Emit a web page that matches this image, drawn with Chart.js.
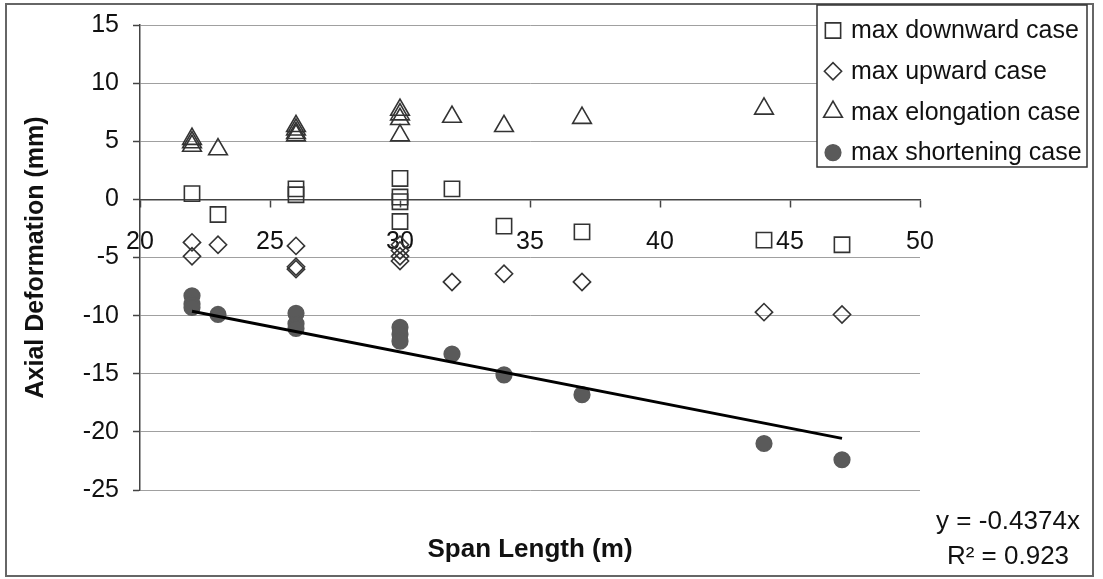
<!DOCTYPE html>
<html><head><meta charset="utf-8">
<script src="https://cdn.jsdelivr.net/npm/chart.js@4.4.1/dist/chart.umd.min.js"></script>
<style>html,body{margin:0;padding:0;background:#fff;}#wrap{width:1103px;height:579px;position:relative;}</style>
</head><body><div id="wrap"><canvas id="c" width="1103" height="579"></canvas></div>
<script>
// ---- data ----
const seriesLabels = ['max downward case', 'max upward case', 'max elongation case', 'max shortening case'];
const downX = [22, 23, 26, 26, 30, 30, 30, 30, 32, 34, 37, 44, 47];
const downY = [0.5, -1.3, 0.9, 0.4, 1.8, 0.2, -0.2, -1.9, 0.9, -2.3, -2.8, -3.5, -3.9];
const upX = [22, 22, 23, 26, 26, 26, 30, 30, 30, 30, 32, 34, 37, 44, 47];
const upY = [-3.7, -4.9, -3.9, -4.0, -5.8, -6.0, -3.9, -4.4, -4.9, -5.3, -7.1, -6.4, -7.1, -9.7, -9.9];
const elongX = [22, 22, 22, 23, 26, 26, 26, 26, 30, 30, 30, 30, 32, 34, 37, 44];
const elongY = [5.2, 4.9, 4.6, 4.3, 6.3, 6.0, 5.7, 5.5, 7.7, 7.3, 6.9, 5.5, 7.1, 6.3, 7.0, 7.8];
const shortX = [22, 22, 22, 23, 26, 26, 26, 30, 30, 30, 32, 34, 37, 44, 47];
const shortY = [-8.3, -9.0, -9.3, -9.9, -9.8, -10.7, -11.1, -11.0, -11.6, -12.2, -13.3, -15.1, -16.8, -21.0, -22.4];
const trendX = [22, 47];
const trendY = [-9.62, -20.56];
const equationText = ['y = -0.4374x', 'R\u00B2 = 0.923'];
const xTitle = 'Span Length (m)';
const yTitle = 'Axial Deformation (mm)';
const xMin = 20, xMax = 50, xStep = 5;
const yMin = -25, yMax = 15, yStep = 5;

const FONT = "'Liberation Sans', Arial, sans-serif";
const pts = (xs, ys) => xs.map((x, i) => ({x: x, y: ys[i]}));

const styles = [
  {pointStyle: 'rect', radius: 10.8, bg: 'rgba(0,0,0,0)', border: '#333'},
  {pointStyle: 'rectRot', radius: 8.6, bg: 'rgba(0,0,0,0)', border: '#333'},
  {pointStyle: 'triangle', radius: 10.8, bg: 'rgba(0,0,0,0)', border: '#333'},
  {pointStyle: 'circle', radius: 7.8, bg: '#5a5a5a', border: '#5a5a5a'}
];
const seriesData = [pts(downX, downY), pts(upX, upY), pts(elongX, elongY), pts(shortX, shortY)];

const datasets = seriesData.map((d, i) => ({
  label: seriesLabels[i],
  data: d,
  pointStyle: styles[i].pointStyle,
  pointRadius: styles[i].radius,
  pointHoverRadius: styles[i].radius,
  pointBackgroundColor: styles[i].bg,
  pointBorderColor: styles[i].border,
  pointBorderWidth: 1.6,
  showLine: false,
  order: 4 - i
}));
datasets.push({
  label: 'trend',
  data: pts(trendX, trendY),
  showLine: true,
  borderColor: '#000',
  borderWidth: 3,
  pointRadius: 0,
  fill: false,
  order: 0
});

const framePlugin = {
  id: 'frame',
  beforeDraw(chart) {
    const ctx = chart.ctx;
    ctx.save();
    ctx.fillStyle = '#fff';
    ctx.fillRect(0, 0, chart.width, chart.height);
    ctx.strokeStyle = '#666';
    ctx.lineWidth = 2;
    ctx.strokeRect(6, 4, 1087, 572);
    ctx.restore();
  }
};

const legendPlugin = {
  id: 'boxLegend',
  afterDraw(chart) {
    const ctx = chart.ctx;
    ctx.save();
    const bx = 817, by = 5, bw = 270, bh = 162;
    ctx.fillStyle = '#fff';
    ctx.fillRect(bx, by, bw, bh);
    ctx.strokeStyle = '#333';
    ctx.lineWidth = 1.5;
    ctx.strokeRect(bx, by, bw, bh);
    ctx.font = '25px ' + FONT;
    ctx.textBaseline = 'middle';
    ctx.textAlign = 'left';
    for (let i = 0; i < 4; i++) {
      const ds = chart.data.datasets[i];
      const y = 30.5 + i * 40.7;
      ctx.fillStyle = ds.pointBackgroundColor;
      ctx.strokeStyle = ds.pointBorderColor;
      ctx.lineWidth = 1.6;
      Chart.helpers.drawPoint(ctx, {pointStyle: ds.pointStyle, radius: ds.pointRadius, borderWidth: 1.6, rotation: 0}, 833, y);
      ctx.fillStyle = '#111';
      ctx.fillText(ds.label, 851, y + 1);
    }
    // trend equation
    ctx.font = '26px ' + FONT;
    ctx.textAlign = 'center';
    ctx.fillStyle = '#111';
    ctx.fillText(equationText[0], 1008, 522);
    ctx.fillText(equationText[1], 1008, 557);
    ctx.restore();
  }
};

new Chart(document.getElementById('c'), {
  type: 'scatter',
  data: {datasets: datasets},
  options: {
    responsive: false,
    animation: false,
    devicePixelRatio: 1,
    layout: {padding: {left: 0, top: 25, right: 183, bottom: 0}},
    plugins: {
      legend: {display: false},
      tooltip: {enabled: false},
      title: {
        display: true,
        text: xTitle,
        position: 'bottom',
        fullSize: false,
        color: '#111',
        font: {family: FONT, size: 26, weight: 'bold'},
        padding: {top: 44.5, bottom: 13.3}
      }
    },
    scales: {
      x: {
        type: 'linear',
        min: xMin, max: xMax,
        position: {y: 0},
        afterFit(scale) { scale.paddingTop = 0; scale.paddingBottom = 0; },
        ticks: {stepSize: xStep, color: '#111', font: {family: FONT, size: 25}, padding: 21, maxRotation: 0},
        grid: {display: true, drawOnChartArea: false, drawTicks: true, tickLength: 7, tickColor: '#444', tickWidth: 1.5},
        border: {display: true, color: '#444', width: 1.5}
      },
      y: {
        type: 'linear',
        min: yMin, max: yMax,
        position: 'left',
        afterFit(scale) { scale.width = 140; scale.paddingTop = 10; scale.paddingBottom = 10; },
        ticks: {stepSize: yStep, color: '#111', font: {family: FONT, size: 25}, padding: 14},
        grid: {color: '#a0a0a0', lineWidth: 1, drawTicks: true, tickLength: 7, tickColor: '#444', tickWidth: 1.5},
        border: {display: true, color: '#444', width: 1.5},
        title: {display: true, text: yTitle, color: '#111', font: {family: FONT, size: 25, weight: 'bold'}, padding: {top: 21, bottom: 0}}
      }
    }
  },
  plugins: [framePlugin, legendPlugin]
});
</script>
</body></html>
